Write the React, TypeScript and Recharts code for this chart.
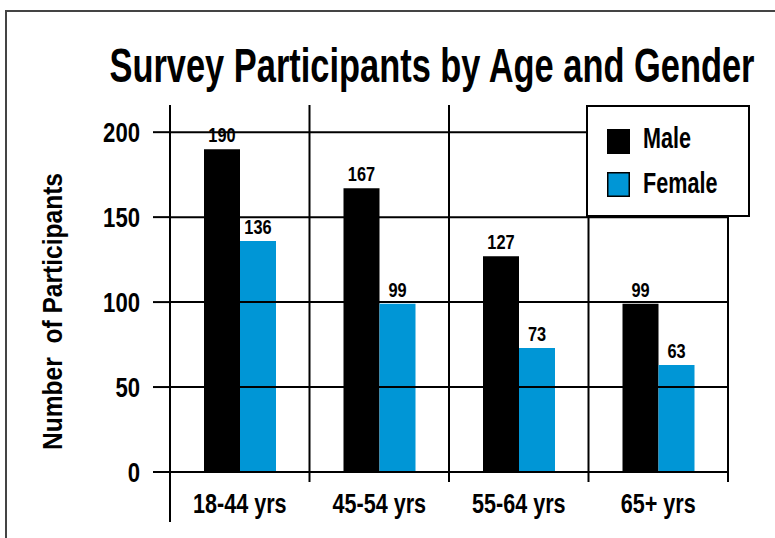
import { Bar, BarChart, CartesianGrid, LabelList, Legend, ReferenceLine, XAxis, YAxis } from "recharts";

// survey counts per age group
const ageGroups = ["18-44 yrs", "45-54 yrs", "55-64 yrs", "65+ yrs"];
const maleCounts = [190, 167, 127, 99];
const femaleCounts = [136, 99, 73, 63];
const yTicks = [0, 50, 100, 150, 200];

const series = [
  { key: "male", name: "Male", color: "#000000" },
  { key: "female", name: "Female", color: "#0096D6" },
];

const data = ageGroups.map((group, i) => ({
  group,
  male: maleCounts[i],
  female: femaleCounts[i],
}));

const FONT = '"Liberation Sans", Arial, sans-serif';

// bold text squeezed horizontally around its anchor point
const Narrow = ({ x, y, size, squeeze, anchor = "middle", children }: any) => (
  <text
    transform={`translate(${x} ${y}) scale(${squeeze} 1)`}
    textAnchor={anchor}
    style={{ fontFamily: FONT, fontWeight: 700, fontSize: size, fill: "#000" }}
  >
    {children}
  </text>
);

// group label plus the divider marks that hang below the baseline
const GroupTick = (props: any) => {
  const { x, y, payload, index, width, visibleTicksCount } = props;
  const half = payload.offset || width / (2 * ageGroups.length);
  const left = x - half;
  const last = index === (visibleTicksCount ?? ageGroups.length) - 1;
  return (
    <g>
      <line x1={left} y1={y} x2={left} y2={y + (index === 0 ? 50 : 10)} stroke="#000" strokeWidth={2} />
      {last && <line x1={x + half} y1={y} x2={x + half} y2={y + 10} stroke="#000" strokeWidth={2} />}
      <Narrow x={x} y={y + 41} size={27} squeeze={0.8}>
        {payload.value}
      </Narrow>
    </g>
  );
};

const CountTick = (props: any) => {
  const { x, y, payload } = props;
  return (
    <Narrow x={x} y={y + 10} size={28} squeeze={0.79} anchor="end">
      {payload.value}
    </Narrow>
  );
};

const BarValue = (props: any) => {
  const { x, y, width, value } = props;
  return (
    <Narrow x={x + width / 2} y={y - 7} size={19.5} squeeze={0.84}>
      {value}
    </Narrow>
  );
};

const YTitle = (props: any) => {
  const { viewBox } = props;
  const cx = viewBox.x + 62;
  const cy = viewBox.y + viewBox.height / 2 + 23;
  return (
    <text
      x={cx}
      y={cy}
      transform={`rotate(-90 ${cx} ${cy})`}
      textAnchor="middle"
      textLength={277}
      lengthAdjust="spacingAndGlyphs"
      style={{ whiteSpace: "pre", fontFamily: FONT, fontWeight: 700, fontSize: 27, fill: "#000" }}
    >
      {"Number  of Participants"}
    </text>
  );
};

const LegendBox = () => (
  <svg width={164} height={112} style={{ display: "block" }}>
    <rect x={1} y={1} width={162} height={110} fill="#fff" stroke="#000" strokeWidth={2} />
    {series.map((s, i) => (
      <g key={s.key}>
        <rect x={21.75} y={24.75 + i * 43} width={21.5} height={23.5} fill={s.color} stroke="#000" strokeWidth={1.5} />
        <Narrow x={57} y={43 + i * 45} size={30} squeeze={0.72} anchor="start">
          {s.name}
        </Narrow>
      </g>
    ))}
  </svg>
);

// vertical dividers sit on the edges of each age-group band
const groupDividers = ({ offset }: any) => {
  if (!offset) return [];
  const n = ageGroups.length;
  return Array.from({ length: n + 1 }, (_, i) => offset.left + (i * offset.width) / n);
};

const DividerLine = (p: any) => (
  <line key={p.key} x1={p.x1} y1={p.y1} x2={p.x2} y2={p.y2} stroke="#000" strokeWidth={2} />
);

export default function App() {
  return (
    <div style={{ position: "absolute", left: 0, top: 0, width: 775, height: 538, overflow: "hidden", background: "#fff" }}>
      <div
        style={{
          position: "absolute",
          left: 5,
          top: 10,
          width: 820,
          height: 600,
          border: "2px solid #444",
        }}
      />
      <svg width={775} height={100} style={{ position: "absolute", left: 0, top: 0 }}>
        <text
          x={432}
          y={82}
          textAnchor="middle"
          textLength={645}
          lengthAdjust="spacingAndGlyphs"
          style={{ fontFamily: FONT, fontWeight: 700, fontSize: 49, fill: "#000" }}
        >
          Survey Participants by Age and Gender
        </text>
      </svg>
      <BarChart
        width={775}
        height={538}
        data={data}
        margin={{ top: 105, right: 47, bottom: 0, left: 0 }}
        barSize={36}
        barGap={0}
        style={{ position: "absolute", left: 0, top: 0 }}
      >
        <XAxis
          dataKey="group"
          height={66}
          axisLine={false}
          tickLine={false}
          tickSize={0}
          tickMargin={0}
          interval={0}
          tick={<GroupTick />}
        />
        <YAxis
          domain={[0, 216]}
          ticks={yTicks}
          width={170}
          axisLine={{ stroke: "#000", strokeWidth: 2 }}
          tickLine={{ stroke: "#000", strokeWidth: 2 }}
          tickSize={17}
          tickMargin={13}
          tick={<CountTick />}
          label={<YTitle />}
        />
        <CartesianGrid
          horizontal={false}
          stroke="none"
          vertical={DividerLine}
          verticalCoordinatesGenerator={groupDividers}
        />
        {yTicks.map((v) => (
          <ReferenceLine key={v} y={v} stroke="#000" strokeWidth={2} />
        ))}
        <Legend
          layout="horizontal"
          verticalAlign="middle"
          align="center"
          content={<LegendBox />}
          wrapperStyle={{ left: 586, top: 105, width: 164, height: 112 }}
        />
        {series.map((s) => (
          <Bar key={s.key} dataKey={s.key} name={s.name} fill={s.color} isAnimationActive={false}>
            <LabelList dataKey={s.key} content={<BarValue />} />
          </Bar>
        ))}
      </BarChart>
    </div>
  );
}
